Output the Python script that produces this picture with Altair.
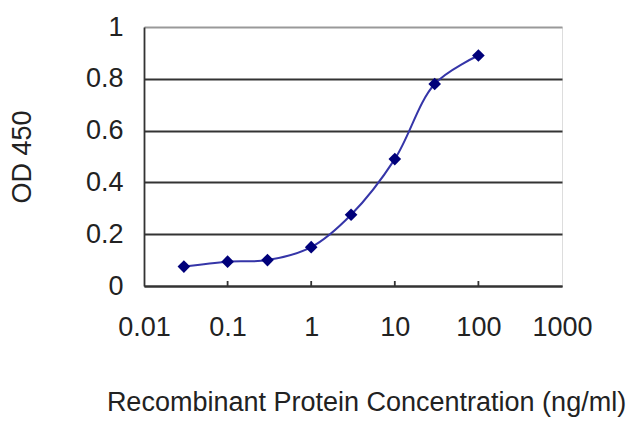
import altair as alt
import pandas as pd

conc = [0.03, 0.1, 0.3, 1, 3, 10, 30, 100]
od = [0.075, 0.094, 0.10, 0.15, 0.275, 0.49, 0.78, 0.89]
x_ticks = [0.01, 0.1, 1, 10, 100, 1000]
inner_ticks = [0.1, 1, 10, 100]
y_ticks = [0, 0.2, 0.4, 0.6, 0.8, 1]

df = pd.DataFrame({"conc": conc, "od": od})
tick_df = pd.DataFrame({"t": inner_ticks})

FONT = "Liberation Sans"
W, H = 418, 259

xscale = alt.Scale(type="log", domain=[0.01, 1000])
yscale = alt.Scale(domain=[0, 1])

xaxis = alt.Axis(
    values=x_ticks, labelExpr="'' + datum.value", grid=False, ticks=False,
    labelFlush=False, labelOverlap=False,
    domainColor="#333", domainWidth=1.8, labelPadding=28, labelFontSize=27,
    labelFont=FONT, labelColor="#222", title="Recombinant Protein Concentration (ng/ml)",
    titleFont=FONT, titleFontSize=27, titleFontWeight="normal", titleColor="#222",
    titleX=222, titleY=116, titleBaseline="middle", titleAlign="center",
)
yaxis = alt.Axis(
    values=y_ticks, labelExpr="'' + datum.value", grid=True,
    labelFlush=False, labelOverlap=False,
    gridColor={"condition": {"test": "datum.value >= 1", "value": "#999"}, "value": "#333"},
    gridWidth=2, ticks=False, domainColor="#333", domainWidth=1.8,
    labelPadding=21, labelFontSize=27, labelFont=FONT, labelColor="#222",
    title="OD 450", titleFont=FONT, titleFontSize=27, titleFontWeight="normal",
    titleColor="#222", titleX=-122, titleBaseline="middle", titleAlign="center",
)

line = alt.Chart(df).mark_line(
    interpolate="catmull-rom", color="#3535a8", strokeWidth=2
).encode(
    x=alt.X("conc:Q", scale=xscale, axis=xaxis),
    y=alt.Y("od:Q", scale=yscale, axis=yaxis),
)
pts = alt.Chart(df).mark_point(
    shape="diamond", filled=True, color="#00007a", size=160, opacity=1
).encode(x=alt.X("conc:Q", scale=xscale), y=alt.Y("od:Q", scale=yscale))

ticks = alt.Chart(tick_df).mark_rule(color="#333", strokeWidth=1.8).encode(
    x=alt.X("t:Q", scale=xscale),
    y=alt.value(H),
    y2=alt.value(H - 5),
)

chart = alt.layer(line, ticks, pts).properties(
    width=W, height=H,
    padding={"left": 136, "top": 19, "right": 70, "bottom": 133},
    autosize=alt.AutoSizeParams(type="none"),
).configure_view(stroke="#999", strokeWidth=1.5).configure(background="white")

chart.save("out.html", embed_options={"renderer": "svg", "actions": False})
